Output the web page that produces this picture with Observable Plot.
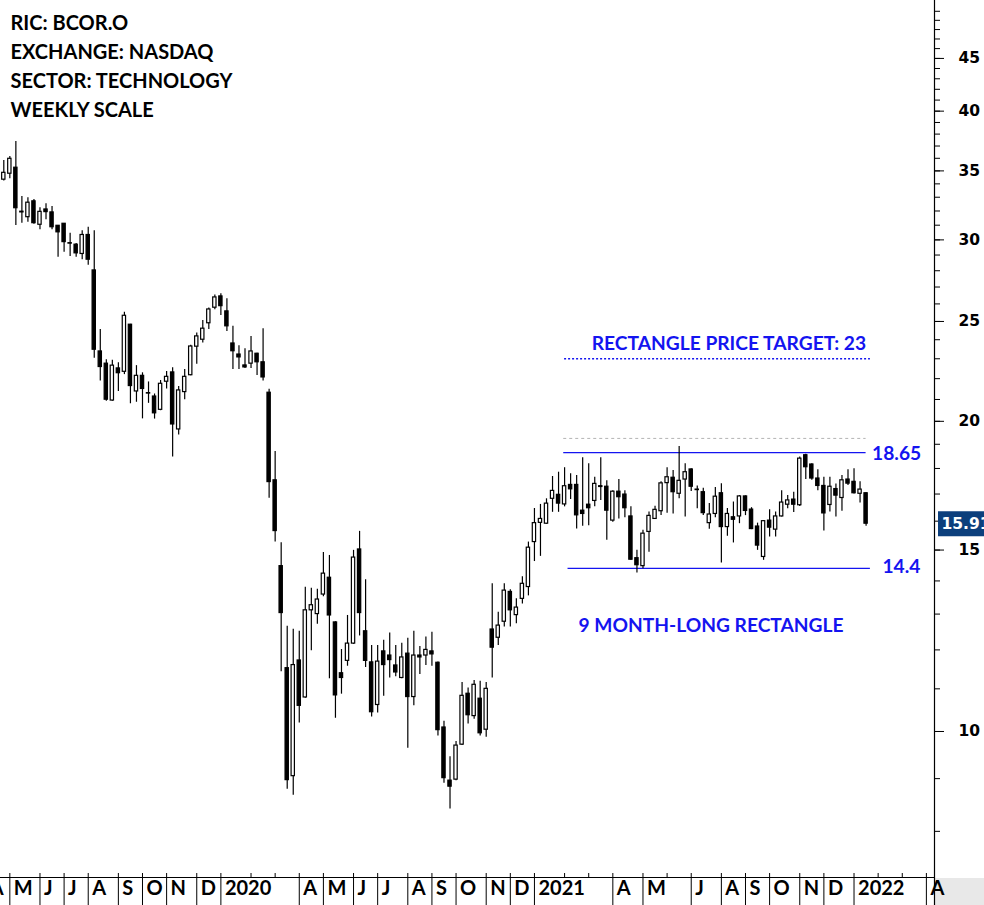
<!DOCTYPE html>
<html><head><meta charset="utf-8">
<script src="https://cdn.jsdelivr.net/npm/d3@7"></script>
<script src="https://cdn.jsdelivr.net/npm/@observablehq/plot@0.6"></script>
<style>
html,body{margin:0;padding:0;background:#fff;}
#wrap{position:relative;width:984px;height:905px;overflow:hidden;}
#band{position:absolute;left:935px;top:878px;width:49px;height:27px;background:#e8e8e8;}
#chart{position:absolute;left:0;top:0;}
</style></head><body>
<div id="wrap"><div id="band"></div><div id="chart"></div></div>
<script>
// ---- data (weekly bars, dated by week-ending Friday) ----
const firstWeek = "2019-04-26";
const open = [34.32,34.78,35.25,31.95,31.56,32.7,31.03,32.11,31.9,30.96,
31.1,29.78,29.68,29.07,30.33,28.02,23.38,22.75,20.95,22.51,
22.34,24.82,21.38,22.14,21.3,21.14,20.52,21.85,22.31,19.64,
21.35,22.17,23.63,24.0,24.9,25.78,26.44,25.57,23.8,23.22,
22.66,22.75,23.26,22.82,21.32,17.53,14.47,11.52,9.05,11.72,
10.79,13.11,13.0,13.58,14.1,12.76,11.39,11.71,12.17,15.02,
12.51,11.67,10.61,11.96,11.85,11.59,11.27,11.9,10.8,11.85,
11.85,11.96,11.66,10.09,8.96,8.98,9.71,10.88,10.35,10.76,
10.04,12.56,12.33,12.78,13.66,12.97,13.45,13.81,15.27,15.94,
15.91,16.82,16.97,16.61,17.35,17.35,16.38,16.6,16.74,17.3,
17.28,16.02,17.09,16.98,16.17,14.73,14.47,15.62,16.08,16.36,
17.42,17.63,17.01,17.56,17.96,17.17,17.07,15.93,16.26,17.03,
15.79,16.14,16.17,16.91,16.42,15.81,14.77,16.02,15.7,16.17,
16.6,16.79,16.58,18.54,18.16,17.6,17.31,16.59,17.19,16.85,
17.56,17.47,17.01,17.03];
const high = [35.83,36.15,37.38,33.05,32.96,32.84,32.23,32.52,32.32,30.98,
31.12,30.44,29.75,30.62,30.86,30.62,24.56,22.95,22.92,22.8,
25.52,24.84,22.65,22.29,21.84,21.26,21.91,22.36,22.54,21.62,
22.46,23.7,24.36,25.05,25.76,26.52,26.6,26.3,24.73,23.68,
23.52,24.18,23.28,24.6,21.48,18.7,15.25,12.65,12.57,12.51,
13.8,13.77,13.74,14.92,14.82,12.78,12.01,12.96,14.99,15.64,
14.04,12.12,12.12,12.26,12.46,12.12,12.18,12.32,12.51,12.09,
12.35,12.48,11.68,10.23,9.45,9.78,11.16,11.02,11.21,11.19,
11.16,13.91,13.05,13.91,13.73,13.45,14.13,15.27,16.46,16.61,
16.82,17.68,17.85,18.03,17.79,17.72,18.44,18.19,17.65,18.44,
17.51,17.13,17.56,17.13,16.52,14.99,15.68,16.33,16.54,17.47,
18.03,17.92,18.91,18.19,17.99,17.31,17.22,16.64,17.25,17.4,
16.46,16.7,16.94,16.93,16.49,15.93,16.02,16.41,16.33,17.13,
16.94,17.07,18.47,18.58,18.19,17.95,17.65,17.65,17.39,17.72,
17.95,17.99,17.47,17.05];
const low = [34.21,34.4,30.98,31.14,31.2,31.07,30.68,31.38,30.68,28.86,
29.18,28.9,28.86,28.7,28.34,23.03,21.88,20.92,20.92,21.38,
22.2,20.8,20.87,20.11,20.82,20.1,20.48,21.5,18.47,19.4,
20.99,22.15,22.72,23.82,24.56,25.67,25.34,24.45,22.46,22.46,
22.5,22.51,22.16,21.88,16.84,15.27,11.43,8.79,8.67,10.19,
10.77,11.98,12.71,13.51,11.25,10.3,10.87,11.57,12.15,12.38,
11.54,10.33,10.42,10.82,11.27,11.3,11.25,9.63,10.59,11.36,
11.59,11.57,9.9,8.91,8.41,8.96,9.69,10.17,10.28,9.9,
9.87,11.27,12.12,12.63,12.63,12.72,13.3,13.54,14.62,14.79,
15.89,16.32,16.32,16.52,16.79,15.72,15.82,15.84,16.52,16.76,
15.33,15.96,16.08,16.12,14.66,14.25,14.39,14.93,16.06,16.2,
16.29,16.26,16.82,16.15,17.1,16.45,16.2,15.71,16.12,14.57,
15.47,15.24,15.91,16.2,15.7,14.99,14.66,15.44,15.44,16.15,
16.45,16.31,16.53,17.56,17.53,17.13,15.65,16.33,16.15,16.36,
17.33,17.0,16.66,15.82];
const close = [34.85,35.96,32.2,31.9,32.6,31.14,31.94,31.92,30.86,30.51,
29.85,29.75,29.11,30.33,28.7,23.47,22.58,20.99,22.65,22.27,
25.32,21.64,22.14,21.5,21.28,20.36,21.75,22.09,19.86,21.43,
22.09,23.64,24.18,24.6,25.68,26.38,25.87,24.73,23.39,23.07,
22.56,23.38,22.82,22.06,17.46,15.65,13.03,8.97,11.6,10.59,
13.11,13.26,13.43,14.23,12.96,10.84,11.27,12.17,14.75,13.03,
11.71,10.44,11.69,11.6,11.73,11.41,11.8,10.8,11.85,11.8,
12.0,11.88,10.03,9.01,8.84,9.69,10.83,10.37,11.1,9.96,
11.0,12.06,12.67,13.7,13.11,13.19,13.91,15.08,15.93,16.08,
16.64,17.12,16.64,17.3,17.18,16.21,16.26,16.47,17.39,17.27,
16.38,17.09,16.88,16.47,14.68,14.5,15.56,16.19,16.41,17.41,
17.65,17.07,17.51,17.85,17.28,17.15,16.29,16.24,16.9,15.79,
16.26,16.05,16.91,16.37,15.72,15.15,16.0,15.77,16.17,16.68,
16.76,16.6,18.4,18.05,17.6,17.31,16.28,17.28,16.94,17.53,
17.4,17.03,17.17,15.91];

// ---- axis ticks / labels ----
const monthTickDates = ["2019-04-05","2019-05-03","2019-06-07","2019-07-05","2019-08-02","2019-09-06","2019-10-04","2019-11-01","2019-12-06","2020-01-03",
"2020-04-03","2020-05-01","2020-06-05","2020-07-03","2020-08-07","2020-09-04","2020-10-02","2020-11-06","2020-12-04","2021-01-01",
"2021-04-02","2021-05-07","2021-07-02","2021-08-06","2021-09-03","2021-10-01","2021-11-05","2021-12-03","2022-01-07","2022-04-01"];
const monthTickLabels = ["A","M","J","J","A","S","O","N","D","2020",
"A","M","J","J","A","S","O","N","D","2021",
"A","M","J","A","S","O","N","D","2022","A"];
const unlabeledMonthDates = ["2020-02-07","2020-03-06","2021-02-05","2021-03-05","2021-06-04","2022-02-04","2022-03-04"];
const yMajorTicks = [10,15,20,25,30,35,40,45];
const yMinorTicks = [8,9,10,11,12,13,14,15,16,17,18,19,20,21,22,23,24,25,26,27,28,29,30,31,32,33,34,35,36,37,38,39,40,41,42,43,44,45,46,47,48,49,50];

// ---- text ----
const titleLines = ["RIC: BCOR.O","EXCHANGE: NASDAQ","SECTOR: TECHNOLOGY","WEEKLY SCALE"];

// ---- annotations ----
const levelNames = ["target","prior","top","bottom"];
const levelValues = [23, 19.25, 18.65, 14.4];
const levelStarts = ["2021-02-05","2021-02-04","2021-02-04","2021-02-09"];
const levelEnds = ["2022-01-26","2022-01-21","2022-01-21","2022-01-26"];
const noteTexts = ["RECTANGLE PRICE TARGET: 23","18.65","14.4","9 MONTH-LONG RECTANGLE"];
const noteDates = ["2022-01-21","2022-01-21","2022-01-26","2021-07-25"];
const noteValues = [23, 18.65, 14.4, 12.67];

// ---- build ----
const t0 = new Date(firstWeek);
const candles = open.map((o, i) => ({
  date: d3.utcDay.offset(t0, 7 * i), open: o, high: high[i], low: low[i], close: close[i]
}));
const lastBar = candles[candles.length - 1];
const xDomain = [d3.utcHour.offset(t0, -92), d3.utcHour.offset(lastBar.date, 1906)];
const yDomain = [7.216, 51.22];

const levels = levelNames.map((n, i) => ({name: n, value: levelValues[i], x1: new Date(levelStarts[i]), x2: new Date(levelEnds[i])}));
const notes = noteTexts.map((t, i) => ({text: t, date: new Date(noteDates[i]), value: noteValues[i]}));
const months = monthTickDates.map((d, i) => ({date: new Date(d), label: monthTickLabels[i]}));
const minorMonths = unlabeledMonthDates.map(d => new Date(d));

const W = 984, H = 905, mR = 50, mB = 28;
const BLUE = "#1414f0";
const halfBody = 46; // hours
const LATO = "Lato, 'Open Sans', sans-serif";
const NOTE_SIZE = 19.2;

const chart = Plot.plot({
  width: W, height: H,
  marginTop: 0, marginLeft: 0, marginRight: mR, marginBottom: mB,
  style: {background: "transparent", color: "black", fontFamily: LATO, overflow: "visible"},
  x: {type: "utc", domain: xDomain, axis: null},
  y: {type: "log", domain: yDomain, axis: null},
  marks: [
    // annotation levels
    Plot.ruleY(levels.filter(d => d.name === "target"), {y: "value", x1: "x1", x2: "x2", stroke: BLUE, strokeWidth: 1.3, strokeDasharray: "2,2"}),
    Plot.ruleY(levels.filter(d => d.name === "prior"), {y: "value", x1: "x1", x2: "x2", stroke: "#b4b4b4", strokeWidth: 1, strokeDasharray: "3,3"}),
    Plot.ruleY(levels.filter(d => d.name === "top" || d.name === "bottom"), {y: "value", x1: "x1", x2: "x2", stroke: BLUE, strokeWidth: 1.3}),
    // wicks
    Plot.ruleX(candles, {x: "date", y1: "low", y2: "high", stroke: "black", strokeWidth: 1.2}),
    // bodies
    Plot.rect(candles.filter(d => d.close < d.open), {
      x1: d => d3.utcHour.offset(d.date, -halfBody), x2: d => d3.utcHour.offset(d.date, halfBody),
      y1: "open", y2: "close", fill: "black", stroke: "black", strokeWidth: 1.2}),
    Plot.rect(candles.filter(d => d.close >= d.open), {
      x1: d => d3.utcHour.offset(d.date, -halfBody), x2: d => d3.utcHour.offset(d.date, halfBody),
      y1: "open", y2: "close", fill: "white", stroke: "black", strokeWidth: 1.2}),
    // annotation texts
    Plot.text(notes.slice(0, 1), {x: "date", y: "value", text: "text", textAnchor: "end", dy: -15, fill: BLUE, fontSize: NOTE_SIZE, fontWeight: "bold", fontFamily: LATO}),
    Plot.text(notes.slice(1, 2), {x: "date", y: "value", text: "text", textAnchor: "start", dx: 6, dy: 1, fill: BLUE, fontSize: NOTE_SIZE, fontWeight: "bold", fontFamily: LATO}),
    Plot.text(notes.slice(2, 3), {x: "date", y: "value", text: "text", textAnchor: "start", dx: 12, dy: -1, fill: BLUE, fontSize: NOTE_SIZE, fontWeight: "bold", fontFamily: LATO}),
    Plot.text(notes.slice(3), {x: "date", y: "value", text: "text", textAnchor: "middle", fill: BLUE, fontSize: NOTE_SIZE, fontWeight: "bold", fontFamily: LATO}),
    // title
    Plot.text([titleLines.join("\n")], {frameAnchor: "top-left", dx: 10, dy: 9, lineAnchor: "top", lineHeight: 1.45, fontSize: 20, fontWeight: "bold", fontFamily: LATO, fill: "black"}),
    // x band
    Plot.ruleY([yDomain[0]], {stroke: "black", strokeWidth: 1}),
    Plot.ruleX(months, {x: "date", stroke: "black", strokeWidth: 1, insetTop: H - mB - 4, insetBottom: -mB}),
    Plot.ruleX(minorMonths, {stroke: "black", strokeWidth: 1, insetTop: H - mB - 4}),
    Plot.text(months, {x: "date", text: "label", frameAnchor: "bottom", dx: 4, dy: 17, textAnchor: "start", fontSize: 20, fontWeight: "bold", fontFamily: LATO, fill: "black"}),
    // y axis
    Plot.ruleX([xDomain[1]], {stroke: "black", strokeWidth: 1.2, insetBottom: -mB}),
    Plot.axisY({anchor: "right", ticks: yMinorTicks, tickSize: 5, tickFormat: () => "", stroke: "black"}),
    Plot.axisY({anchor: "right", ticks: yMajorTicks, tickSize: 9, tickPadding: 15, tickFormat: d => String(d), fontSize: 15.5, fontWeight: "bold", fontFamily: "'DejaVu Sans', sans-serif", fill: "black", stroke: "black"}),
    // last price box
    Plot.ruleY([lastBar.close], {insetLeft: W - mR + 4, insetRight: -mR, stroke: "#0c3f7c", strokeWidth: 25}),
    Plot.text([lastBar.close], {y: d => d, text: d => d.toFixed(2), frameAnchor: "right", dx: 7, textAnchor: "start", fill: "white", fontSize: 15.5, fontWeight: "bold", fontFamily: "'DejaVu Sans', sans-serif"})
  ]
});
document.getElementById("chart").appendChild(chart);
</script></body></html>
